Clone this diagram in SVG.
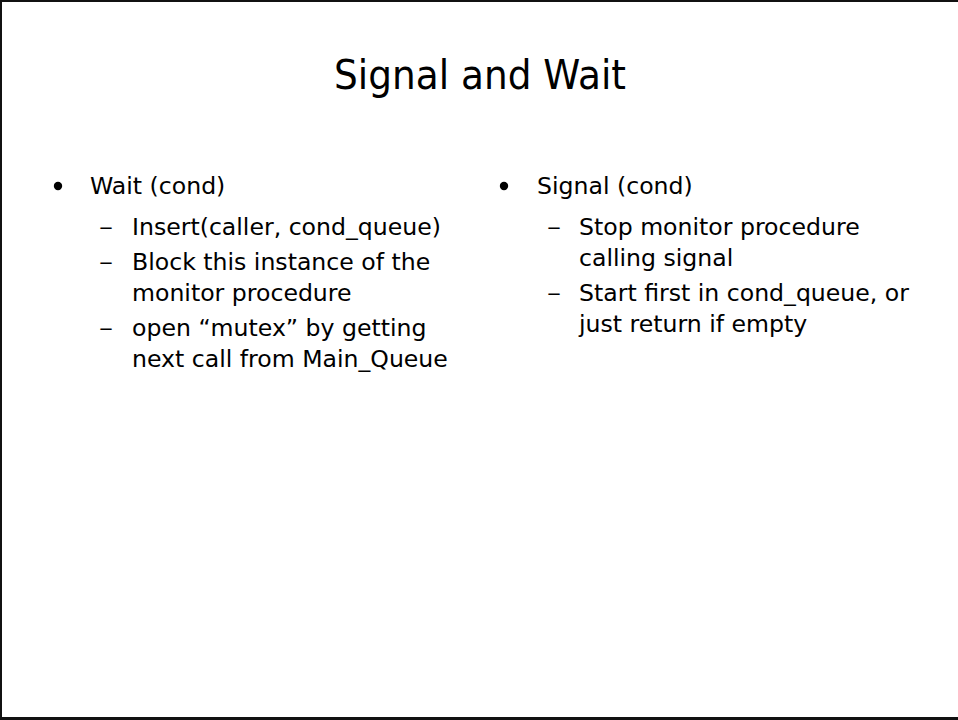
<svg xmlns="http://www.w3.org/2000/svg" width="958" height="720" viewBox="0 0 958 720">
  <style>
    .title { font-family: "DejaVu Sans", "Noto Sans", sans-serif; font-size: 41px; fill: #000; }
    .body { font-family: "DejaVu Sans", "Noto Sans", sans-serif; font-size: 23.6px; fill: #000; }
    .frame { stroke: #111; fill: none; }
  </style>
  <defs>
    <!-- second-level bullet mark -->
    <text id="dash" class="body" textLength="14" lengthAdjust="spacingAndGlyphs">–</text>
  </defs>
  <rect width="958" height="720" fill="#fff"/>
  <!-- slide frame: top, left and bottom edges -->
  <line class="frame" x1="0" y1="1" x2="958" y2="1" stroke-width="2"/>
  <line class="frame" x1="1" y1="0" x2="1" y2="720" stroke-width="2"/>
  <line class="frame" x1="0" y1="718.5" x2="958" y2="718.5" stroke-width="3"/>

  <g id="title">
    <text class="title" x="480" y="89" text-anchor="middle" textLength="292" lengthAdjust="spacingAndGlyphs">Signal and Wait</text>
  </g>

  <g id="wait">
    <circle cx="58" cy="186" r="4.2" fill="#000"/>
    <text class="body" x="90" y="194">Wait (cond)</text>
    <use href="#dash" x="99" y="235"/>
    <text class="body" x="132" y="235">Insert(caller, cond_queue)</text>
    <use href="#dash" x="99" y="270"/>
    <text class="body" x="132" y="270">Block this instance of the</text>
    <text class="body" x="132" y="301">monitor procedure</text>
    <use href="#dash" x="99" y="336"/>
    <text class="body" x="132" y="336">open “mutex” by getting</text>
    <text class="body" x="132" y="367">next call from Main_Queue</text>
  </g>

  <g id="signal">
    <circle cx="504" cy="186" r="4.2" fill="#000"/>
    <text class="body" x="537" y="194">Signal (cond)</text>
    <use href="#dash" x="547" y="235"/>
    <text class="body" x="579" y="235">Stop monitor procedure</text>
    <text class="body" x="579" y="266">calling signal</text>
    <use href="#dash" x="547" y="301"/>
    <text class="body" x="579" y="301">Start first in cond_queue, or</text>
    <text class="body" x="579" y="332">just return if empty</text>
  </g>
</svg>
